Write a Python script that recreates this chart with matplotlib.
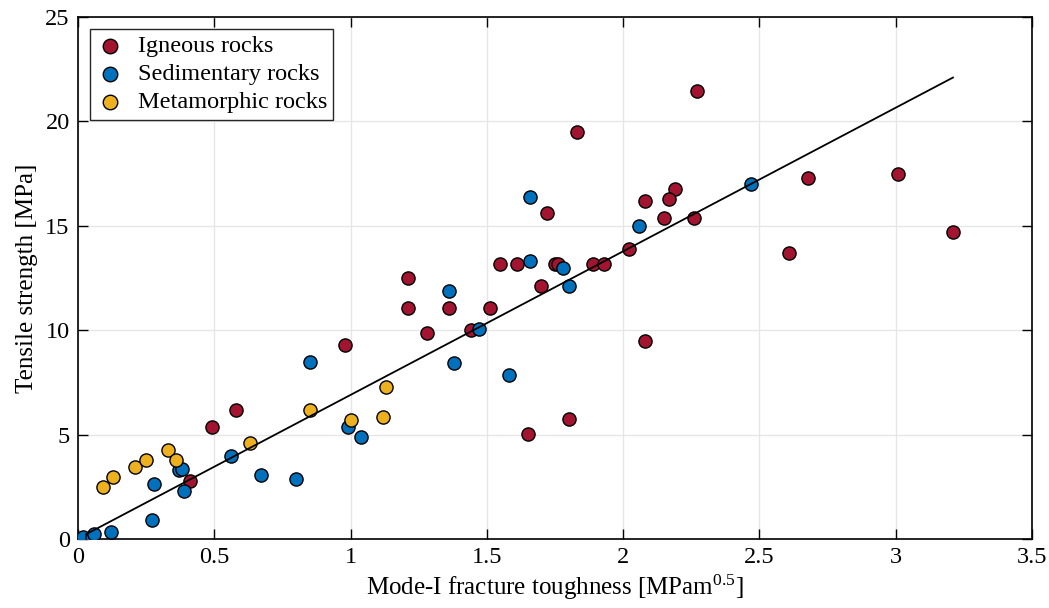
import numpy as np
import matplotlib
matplotlib.use('Agg')
import matplotlib.pyplot as plt

plt.rcParams['font.family'] = ['Liberation Serif', 'DejaVu Serif']
plt.rcParams['mathtext.fontset'] = 'custom'
plt.rcParams['mathtext.rm'] = 'Liberation Serif'
plt.rcParams['mathtext.it'] = 'Liberation Serif'

# data
igneous_x = [2.27, 1.83, 3.01, 2.68, 2.19, 2.17, 2.08, 1.72, 2.15, 2.26, 3.21,
             2.02, 2.61, 1.55, 1.61, 1.75, 1.76, 1.89, 1.93, 1.21, 1.70, 1.21,
             1.36, 1.51, 1.44, 1.28, 0.98, 2.08, 1.80, 0.58, 0.49, 1.65, 0.41]
igneous_y = [21.47, 19.48, 17.5, 17.27, 16.78, 16.28, 16.19, 15.6, 15.39, 15.39, 14.69,
             13.9, 13.68, 13.18, 13.18, 13.18, 13.18, 13.18, 13.18, 12.49, 12.1, 11.08,
             11.08, 11.08, 10.0, 9.88, 9.29, 9.48, 5.76, 6.18, 5.38, 5.01, 2.79]

sed_x = [2.47, 1.66, 2.06, 1.66, 1.78, 1.80, 1.36, 1.47, 0.85, 1.38, 1.58, 0.99,
         1.04, 0.56, 0.37, 0.38, 0.67, 0.80, 0.28, 0.39, 0.27, 0.12, 0.02, 0.05, 0.06]
sed_y = [17.0, 16.38, 14.98, 13.3, 12.99, 12.1, 11.88, 10.07, 8.48, 8.44, 7.85, 5.35,
         4.87, 3.99, 3.3, 3.34, 3.07, 2.87, 2.63, 2.31, 0.92, 0.35, 0.11, 0.11, 0.24]

meta_x = [0.09, 0.13, 0.21, 0.25, 0.33, 0.36, 0.63, 0.85, 1.00, 1.12, 1.13]
meta_y = [2.48, 2.98, 3.46, 3.78, 4.26, 3.78, 4.58, 6.18, 5.70, 5.86, 7.29]

fit_x = [0.03, 3.21]
fit_y = [0.23, 22.1]

c_ign = '#A2142F'
c_sed = '#0072BD'
c_meta = '#EDB120'

fig = plt.figure(figsize=(10.49, 6.08), dpi=100)
ax = fig.add_axes([78/1049, 1-539/608, (1032-78)/1049, (539-17)/608])

ms = 90
ax.scatter(igneous_x, igneous_y, s=ms, c=c_ign, edgecolors='black', linewidths=1.0,
           zorder=3, label='Igneous rocks')
ax.scatter(sed_x, sed_y, s=ms, c=c_sed, edgecolors='black', linewidths=1.0,
           zorder=3, label='Sedimentary rocks')
ax.scatter(meta_x, meta_y, s=ms, c=c_meta, edgecolors='black', linewidths=1.0,
           zorder=3, label='Metamorphic rocks')
ax.plot(fit_x, fit_y, color='black', lw=1.3, zorder=4)

ax.set_xlim(0, 3.5)
ax.set_ylim(0, 25)
ax.set_xticks(np.arange(0, 3.51, 0.5))
ax.set_yticks(np.arange(0, 26, 5))
ax.set_xticklabels(['0', '0.5', '1', '1.5', '2', '2.5', '3', '3.5'])
ax.grid(True, color='#e6e6e6', lw=1.0, zorder=0)
ax.set_axisbelow(True)
ax.tick_params(direction='in', top=True, right=True, length=7, width=1.0,
               labelsize=17.5, pad=6)
for s in ax.spines.values():
    s.set_linewidth(1.2)

ax.set_xlabel('Mode-I fracture toughness [MPam$^{0.5}$]', fontsize=18, labelpad=3)
ax.set_ylabel('Tensile strength [MPa]', fontsize=18, labelpad=5)

leg = ax.legend(loc='upper left', fontsize=17.5, frameon=True, fancybox=False,
                edgecolor='#262626', framealpha=1, borderaxespad=0.5,
                handletextpad=0.6, labelspacing=0.25, borderpad=0.25,
                handlelength=1.1, markerscale=1.1)
leg.get_frame().set_linewidth(1.0)

fig.savefig('out.png', dpi=100)
